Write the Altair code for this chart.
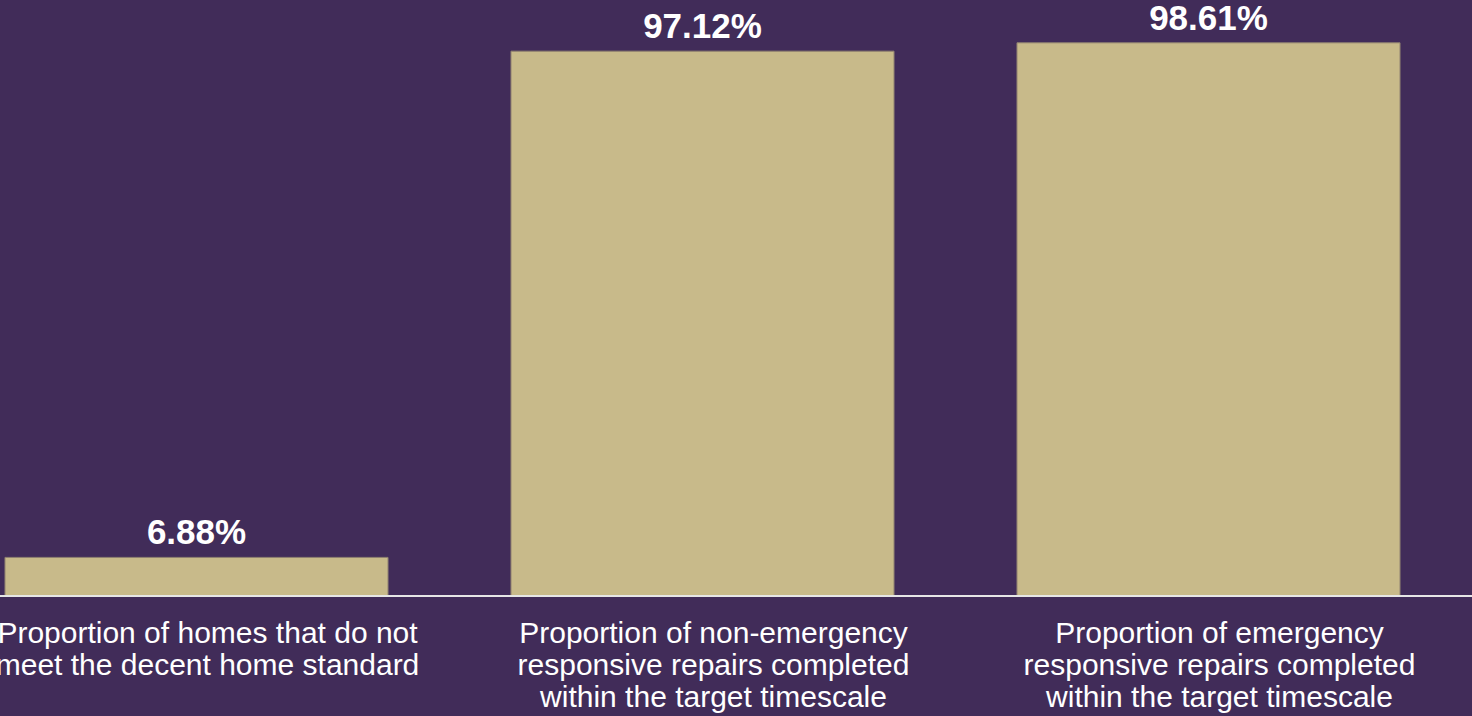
import altair as alt
import pandas as pd

categories = [
    "Proportion of homes that do not|meet the decent home standard",
    "Proportion of non-emergency|responsive repairs completed|within the target timescale",
    "Proportion of emergency|responsive repairs completed|within the target timescale",
]
values = [6.88, 97.12, 98.61]
value_labels = ["6.88%", "97.12%", "98.61%"]

df = pd.DataFrame({"cat": categories, "value": values, "label": value_labels})

BG = "#412C59"
BAR = "#C8BA8A"

x = alt.X(
    "cat:N",
    sort=categories,
    title=None,
    scale=alt.Scale(range=[-56.5, 1461.5], paddingInner=0.243, paddingOuter=0.1215),
    axis=alt.Axis(
        labelExpr="split(datum.label, '|')",
        labelAngle=0,
        labelColor="white",
        labelFont="Liberation Sans",
        labelFontSize=30,
        labelLineHeight=32,
        labelPadding=22,
        labelOffset=11,
        labelBaseline="top",
        labelLimit=0,
        ticks=False,
        domain=False,
    ),
)
y = alt.Y("value:Q", scale=alt.Scale(domain=[0, 100]), axis=None)

bars = alt.Chart(df).mark_bar(color=BAR, stroke="#8f8170", strokeWidth=1).encode(x=x, y=y)

text = alt.Chart(df).mark_text(
    color="white", font="Liberation Sans", fontSize=35, fontWeight="bold",
    baseline="bottom", dy=-6
).encode(x=alt.X("cat:N", sort=categories), y="value:Q", text="label:N")

axis_line = alt.Chart(df).mark_rule(color="#e6e6e6", strokeWidth=2).encode(
    x=alt.value(0), x2=alt.value(1472), y=alt.value(561)
)

chart = alt.layer(bars, text, axis_line).properties(
    width=1472, height=561,
    background=BG,
    padding={"left": 0, "right": 0, "top": 35, "bottom": 120},
    autosize=alt.AutoSizeParams(type="none"),
).configure_view(stroke=None)

chart.save("out.html", embed_options={"renderer": "svg", "actions": False})
